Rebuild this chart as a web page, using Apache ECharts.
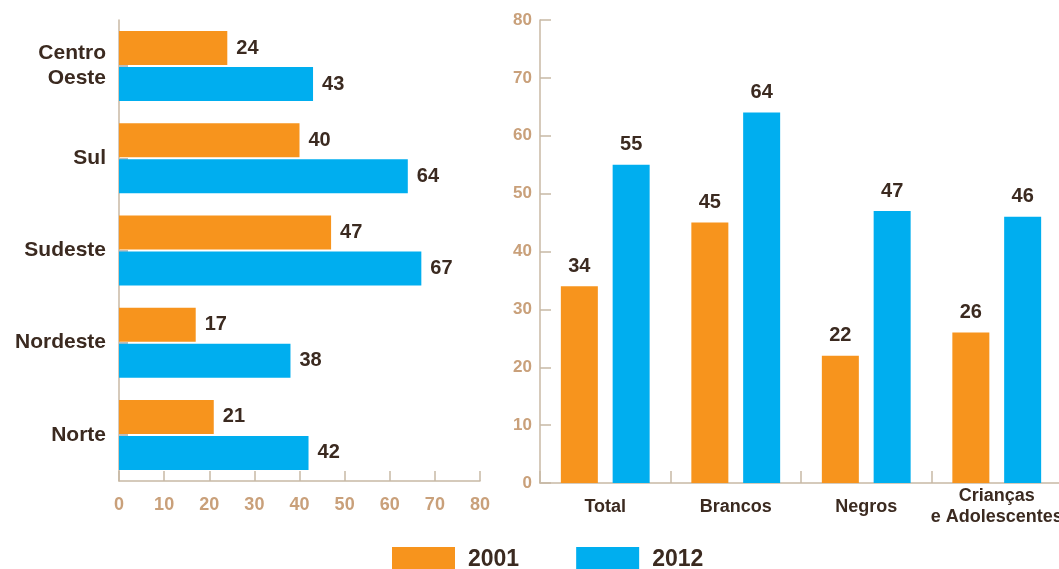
<!DOCTYPE html>
<html><head><meta charset="utf-8">
<script src="https://cdn.jsdelivr.net/npm/echarts@6/dist/echarts.min.js"></script>
<style>html,body{margin:0;padding:0;background:#fff}#c{width:1059px;height:569px}</style>
</head><body><div id="c"></div>
<script>
var regions = ['Centro\nOeste', 'Sul', 'Sudeste', 'Nordeste', 'Norte'];
var regions2001 = [24, 40, 47, 17, 21];
var regions2012 = [43, 64, 67, 38, 42];
var groups = ['Total', 'Brancos', 'Negros', 'Crianças\ne Adolescentes'];
var groups2001 = [34, 45, 22, 26];
var groups2012 = [55, 64, 47, 46];
var seriesNames = ['2001', '2012'];

var ORANGE = '#F7941D', BLUE = '#00AEEF', DARK = '#3B2A20', TAN = '#C9A07A', AXIS = '#C8B9A5';
var FONT = 'Liberation Sans, Arial, sans-serif';

var chart = echarts.init(document.getElementById('c'));
chart.setOption({
  animation: false,
  textStyle: {fontFamily: FONT},
  legend: {
    data: seriesNames, left: 387, top: 542, itemWidth: 63, itemHeight: 25, itemGap: 57,
    icon: 'rect',
    textStyle: {color: DARK, fontSize: 23, fontWeight: 'bold', fontFamily: FONT, padding: [0, 0, 0, 8]}
  },
  grid: [
    {left: 119, top: 20, width: 361, height: 461, outerBoundsMode: 'none', containLabel: false},
    {left: 540, top: 20, width: 522, height: 463, outerBoundsMode: 'none', containLabel: false}
  ],
  xAxis: [
    {gridIndex: 0, type: 'value', min: 0, max: 80, interval: 10,
      axisLine: {show: true, lineStyle: {color: AXIS, width: 1.5}},
      axisTick: {show: true, inside: true, length: 10, lineStyle: {color: AXIS, width: 1.5}},
      splitLine: {show: false},
      axisLabel: {color: TAN, fontSize: 18, fontWeight: 'bold', margin: 15, fontFamily: FONT}},
    {gridIndex: 1, type: 'category', data: groups,
      axisLine: {show: true, lineStyle: {color: AXIS, width: 1.5}},
      axisTick: {show: true, inside: true, length: 12, interval: 0, lineStyle: {color: AXIS, width: 1.5}},
      axisLabel: {interval: 0, color: DARK, fontSize: 18, fontWeight: 'bold', margin: 24, lineHeight: 21, verticalAlign: 'middle', fontFamily: FONT}}
  ],
  yAxis: [
    {gridIndex: 0, type: 'category', data: regions, inverse: true,
      axisLine: {show: true, lineStyle: {color: AXIS, width: 1.5}},
      axisTick: {show: true, inside: true, alignWithLabel: true, length: 9, lineStyle: {color: '#BDBDBD', width: 2}},
      axisLabel: {interval: 0, color: DARK, fontSize: 21, fontWeight: 'bold', margin: 13, lineHeight: 25, align: 'right', fontFamily: FONT}},
    {gridIndex: 1, type: 'value', min: 0, max: 80, interval: 10,
      axisLine: {show: true, lineStyle: {color: AXIS, width: 1.5}},
      axisTick: {show: true, inside: true, length: 11, lineStyle: {color: AXIS, width: 1.5}},
      splitLine: {show: false},
      axisLabel: {color: TAN, fontSize: 17, fontWeight: 'bold', margin: 8, fontFamily: FONT}}
  ],
  series: [
    {name: seriesNames[0], type: 'bar', xAxisIndex: 0, yAxisIndex: 0, data: regions2001,
      itemStyle: {color: ORANGE}, barWidth: 34, barGap: '6%',
      label: {show: true, position: 'right', distance: 9, color: DARK, fontSize: 20, fontWeight: 'bold', fontFamily: FONT}},
    {name: seriesNames[1], type: 'bar', xAxisIndex: 0, yAxisIndex: 0, data: regions2012,
      itemStyle: {color: BLUE}, barWidth: 34, barGap: '6%',
      label: {show: true, position: 'right', distance: 9, color: DARK, fontSize: 20, fontWeight: 'bold', fontFamily: FONT}},
    {name: seriesNames[0], type: 'bar', xAxisIndex: 1, yAxisIndex: 1, data: groups2001,
      itemStyle: {color: ORANGE}, barWidth: 37, barGap: '40%',
      label: {show: true, position: 'top', distance: 10, color: DARK, fontSize: 20, fontWeight: 'bold', fontFamily: FONT}},
    {name: seriesNames[1], type: 'bar', xAxisIndex: 1, yAxisIndex: 1, data: groups2012,
      itemStyle: {color: BLUE}, barWidth: 37, barGap: '40%',
      label: {show: true, position: 'top', distance: 10, color: DARK, fontSize: 20, fontWeight: 'bold', fontFamily: FONT}}
  ]
});
</script></body></html>
